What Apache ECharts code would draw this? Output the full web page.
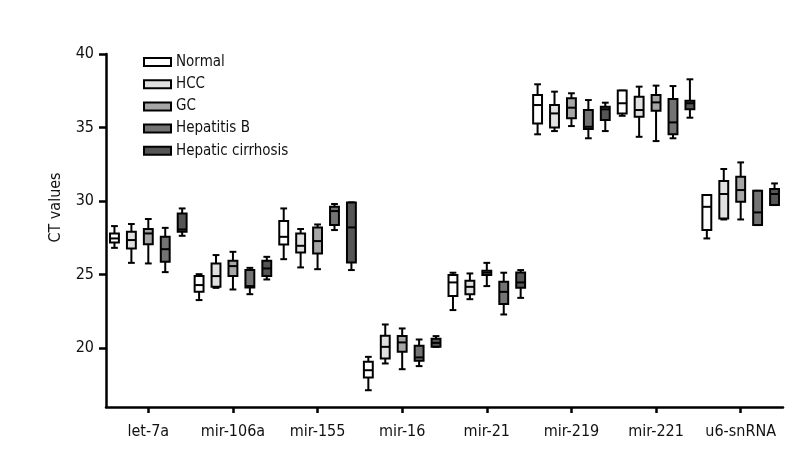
<!DOCTYPE html>
<html><head><meta charset="utf-8">
<script src="https://cdn.jsdelivr.net/npm/echarts@6/dist/echarts.min.js"></script>
<style>html,body{margin:0;padding:0;background:#fff}#c{width:800px;height:460px}</style>
</head><body><div id="c"></div>
<script>
const categories = ['let-7a','mir-106a','mir-155','mir-16','mir-21','mir-219','mir-221','u6-snRNA'];
const seriesNames = ['Normal','HCC','GC','Hepatitis B','Hepatic cirrhosis'];
const yTicks = [20, 25, 30, 35, 40];
// each entry: [min, Q1, median, Q3, max]
const normal = [
  [26.82, 27.19, 27.46, 27.80, 28.30],
  [23.27, 23.83, 24.29, 24.90, 25.03],
  [26.05, 27.05, 27.57, 28.64, 29.50],
  [17.14, 18.01, 18.50, 19.07, 19.41],
  [22.59, 23.54, 24.47, 24.97, 25.13],
  [34.54, 35.28, 36.53, 37.21, 37.94],
  [35.80, 35.96, 36.65, 37.51, 37.51],
  [27.46, 28.03, 29.61, 30.41, 30.41]
];
const hcc = [
  [25.80, 26.78, 27.35, 27.91, 28.44],
  [24.10, 24.17, 24.90, 25.76, 26.33],
  [25.49, 26.51, 26.96, 27.80, 28.10],
  [18.96, 19.30, 20.09, 20.84, 21.61],
  [23.33, 23.67, 24.17, 24.58, 25.08],
  [34.76, 35.01, 35.96, 36.53, 37.44],
  [34.37, 35.73, 36.19, 37.10, 37.78],
  [28.75, 28.82, 30.48, 31.36, 32.18]
];
const gc = [
  [25.76, 27.07, 27.80, 28.10, 28.78],
  [23.99, 24.90, 25.58, 25.94, 26.55],
  [25.37, 26.44, 27.28, 28.21, 28.41],
  [18.57, 19.75, 20.39, 20.82, 21.34],
  [24.22, 24.97, 25.13, 25.26, 25.80],
  [35.10, 35.63, 36.35, 36.99, 37.33],
  [34.08, 36.14, 36.71, 37.21, 37.85],
  [28.75, 29.95, 30.75, 31.65, 32.63]
];
const hepatitisB = [
  [25.17, 25.87, 26.73, 27.57, 28.18],
  [23.67, 24.13, 24.22, 25.31, 25.46],
  [28.03, 28.37, 29.32, 29.61, 29.80],
  [18.78, 19.14, 19.37, 20.16, 20.59],
  [22.29, 23.00, 23.83, 24.52, 25.13],
  [34.27, 34.90, 35.05, 36.19, 36.87],
  [34.27, 34.54, 35.35, 36.94, 37.82],
  [28.37, 28.37, 29.23, 30.70, 30.70]
];
const cirrhosis = [
  [27.64, 27.91, 28.07, 29.16, 29.50],
  [24.67, 24.90, 25.42, 25.94, 26.21],
  [25.31, 25.83, 28.21, 29.91, 29.91],
  [20.09, 20.09, 20.36, 20.64, 20.82],
  [23.42, 24.10, 24.47, 25.15, 25.31],
  [34.76, 35.51, 36.24, 36.42, 36.69],
  [35.67, 36.24, 36.65, 36.82, 38.28],
  [29.73, 29.73, 30.48, 30.82, 31.20]
];
const groups = [normal, hcc, gc, hepatitisB, cirrhosis];
const fills = ['#ffffff', '#e0e0e0', '#a6a6a6', '#737373', '#555555'];
const FONT = "'DejaVu Sans Condensed', 'Liberation Sans', sans-serif";

function makeRender(si) {
  return function (params, api) {
    const ci = api.value(0);
    const band = api.size([1, 0])[0];
    const cx = api.coord([ci, api.value(3)])[0] + (si - 2) * 0.2 * band;
    const bw = band * 0.105, cw = band * 0.08;
    const yMin = api.coord([ci, api.value(1)])[1];
    const yQ1 = api.coord([ci, api.value(2)])[1];
    const yMed = api.coord([ci, api.value(3)])[1];
    const yQ3 = api.coord([ci, api.value(4)])[1];
    const yMax = api.coord([ci, api.value(5)])[1];
    const ls = { stroke: '#000', lineWidth: 2 };
    return {
      type: 'group',
      children: [
        { type: 'line', shape: { x1: cx, y1: yMax, x2: cx, y2: yQ3 }, style: ls },
        { type: 'line', shape: { x1: cx, y1: yQ1, x2: cx, y2: yMin }, style: ls },
        { type: 'line', shape: { x1: cx - cw / 2, y1: yMax, x2: cx + cw / 2, y2: yMax }, style: ls },
        { type: 'line', shape: { x1: cx - cw / 2, y1: yMin, x2: cx + cw / 2, y2: yMin }, style: ls },
        { type: 'rect', shape: { x: cx - bw / 2, y: yQ3, width: bw, height: yQ1 - yQ3 },
          style: { fill: fills[si], stroke: '#000', lineWidth: 2 } },
        { type: 'line', shape: { x1: cx - bw / 2, y1: yMed, x2: cx + bw / 2, y2: yMed }, style: ls }
      ]
    };
  };
}

const series = groups.map(function (g, si) {
  return {
    name: seriesNames[si],
    type: 'custom',
    renderItem: makeRender(si),
    itemStyle: { color: fills[si] },
    encode: { x: 0, y: [1, 2, 3, 4, 5] },
    data: g.map(function (d, ci) { return [ci].concat(d); }),
    silent: true
  };
});

const chart = echarts.init(document.getElementById('c'), null, { renderer: 'canvas' });
chart.setOption({
  animation: false,
  backgroundColor: '#fff',
  textStyle: { fontFamily: FONT },
  grid: { left: 106, right: 17, top: 54, bottom: 53 },
  legend: {
    orient: 'vertical',
    left: 138,
    top: 48,
    itemWidth: 27,
    itemHeight: 8,
    itemGap: 4.2,
    selectedMode: false,
    textStyle: { fontFamily: FONT, fontSize: 15, lineHeight: 18, color: '#111' },
    data: seriesNames.map(function (n, i) {
      return { name: n, icon: 'rect', itemStyle: { color: fills[i], borderColor: '#000', borderWidth: 2 } };
    })
  },
  xAxis: {
    type: 'category',
    data: categories,
    boundaryGap: true,
    axisLine: { show: true, lineStyle: { color: '#000', width: 2.5 } },
    axisTick: { show: true, alignWithLabel: true, interval: 0, inside: false, length: 6, lineStyle: { color: '#000', width: 2.5 } },
    axisLabel: { interval: 0, fontFamily: FONT, fontSize: 16, color: '#111', margin: 17 },
    splitLine: { show: false }
  },
  yAxis: {
    type: 'value',
    min: 16,
    max: 40,
    name: 'CT values',
    nameLocation: 'middle',
    nameGap: 42,
    nameTextStyle: { fontFamily: FONT, fontSize: 16, color: '#111', padding: [0, 0, 0, 46] },
    axisLine: { show: true, lineStyle: { color: '#000', width: 2.5 } },
    axisTick: { show: true, length: 7, customValues: yTicks, lineStyle: { color: '#000', width: 2.5 } },
    axisLabel: { fontFamily: FONT, fontSize: 16, color: '#111', margin: 12, customValues: yTicks },
    splitLine: { show: false }
  },
  series: series
});
</script>
</body></html>
